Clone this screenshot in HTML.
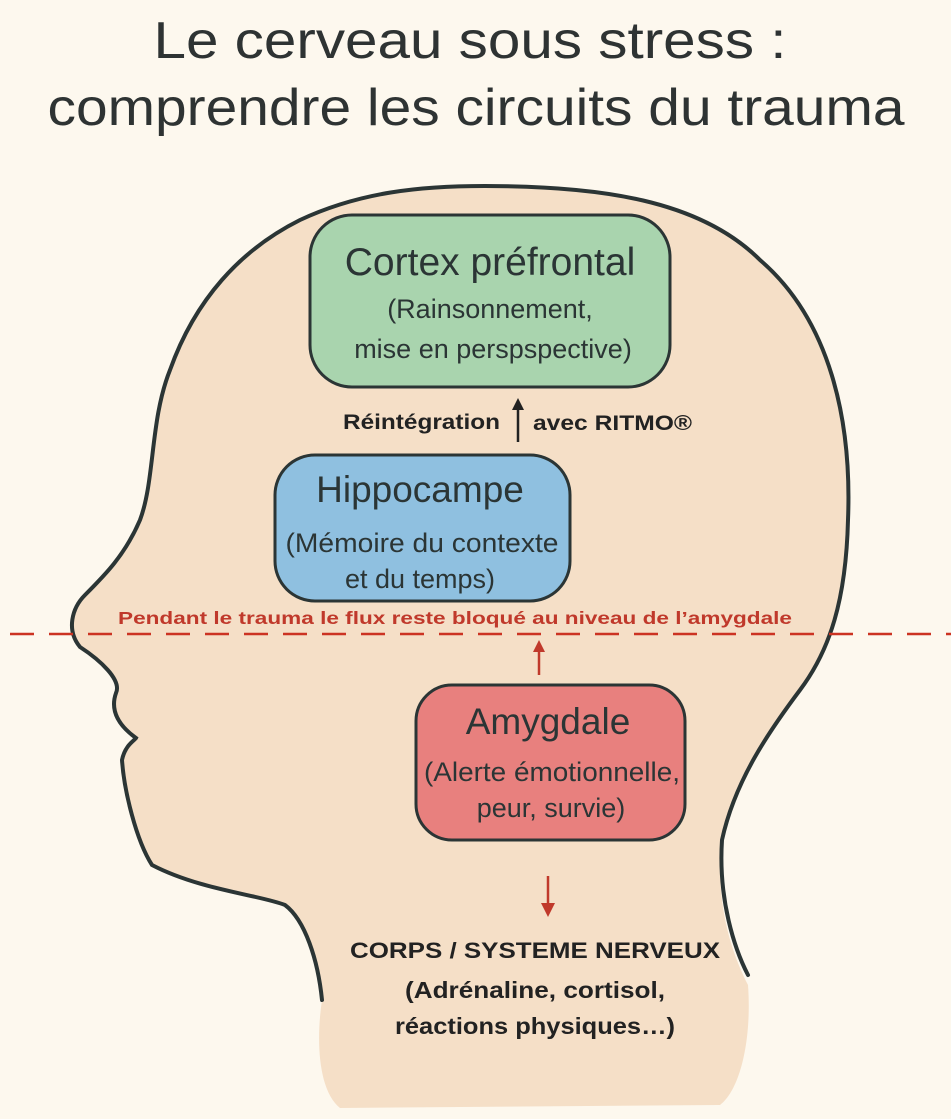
<!DOCTYPE html>
<html><head><meta charset="utf-8"><style>
html,body{margin:0;padding:0;background:#fdf8ee;}
svg{display:block;}
</style></head><body>
<svg width="951" height="1119" viewBox="0 0 951 1119" xmlns="http://www.w3.org/2000/svg" font-family="Liberation Sans, DejaVu Sans, sans-serif">
<rect width="951" height="1119" fill="#fdf8ee"/>
<text x="470" y="58" font-size="52" fill="#2e3333" text-anchor="middle" textLength="633" lengthAdjust="spacingAndGlyphs">Le cerveau sous stress :</text>
<text x="476" y="125" font-size="52" fill="#2e3333" text-anchor="middle" textLength="857" lengthAdjust="spacingAndGlyphs">comprendre les circuits du trauma</text>

<path d="M485,186 C600,186 700,200 760,260 C830,320 852,420 848,520 C846,600 830,650 800,690 C770,730 735,780 722,840 C715,900 730,950 748,985 C752,1040 740,1090 720,1105 L340,1108 C318,1090 316,1040 322,1000 C318,960 305,920 285,905 C260,895 200,890 152,865 C136,840 124,790 122,760 C125,745 135,740 136,738 C118,725 110,710 116,693 C122,680 100,660 80,647 C66,630 72,608 85,595 C105,575 125,555 140,520 C155,480 150,420 170,370 C195,300 240,250 300,220 C360,192 420,186 485,186 Z" fill="#f5dfc7"/>
<path d="M748,975 C735,950 718,900 722,840 C735,780 770,730 800,690 C830,650 846,600 848,520 C852,420 830,320 760,260 C700,200 600,186 485,186 C420,186 360,192 300,220 C240,250 195,300 170,370 C150,420 155,480 140,520 C125,555 105,575 85,595 C72,608 66,630 80,647 C100,660 122,680 116,693 C110,710 118,725 136,738 C135,740 125,745 122,760 C124,790 136,840 152,865 C200,890 260,895 285,905 C305,920 318,960 322,1000" fill="none" stroke="#2b3535" stroke-width="4" stroke-linecap="round"/>

<rect x="310" y="215" width="360" height="172" rx="42" fill="#a9d4ae" stroke="#2b3535" stroke-width="3"/>
<text x="490" y="275" font-size="39" fill="#2b3535" text-anchor="middle">Cortex préfrontal</text>
<text x="490" y="318" font-size="27" fill="#2b3535" text-anchor="middle">(Rainsonnement,</text>
<text x="493" y="358" font-size="27" fill="#2b3535" text-anchor="middle">mise en perspspective)</text>

<line x1="518" y1="442" x2="518" y2="408" stroke="#222" stroke-width="2.5"/>
<path d="M512,410 L518,398 L524,410 Z" fill="#222"/>
<text x="500" y="429" font-size="21" font-weight="bold" fill="#222" text-anchor="end" textLength="157" lengthAdjust="spacingAndGlyphs">Réintégration</text>
<text x="533" y="430" font-size="21" font-weight="bold" fill="#222" textLength="159" lengthAdjust="spacingAndGlyphs">avec RITMO®</text>

<rect x="275" y="455" width="295" height="146" rx="40" fill="#8fc0e0" stroke="#2b3535" stroke-width="3"/>
<text x="420" y="502" font-size="37" fill="#2b3535" text-anchor="middle">Hippocampe</text>
<text x="422" y="552" font-size="27" fill="#2b3535" text-anchor="middle" textLength="273" lengthAdjust="spacingAndGlyphs">(Mémoire du contexte</text>
<text x="420" y="588" font-size="27" fill="#2b3535" text-anchor="middle">et du temps)</text>

<line x1="10" y1="634" x2="951" y2="634" stroke="#cc3322" stroke-width="2.5" stroke-dasharray="24,15"/>
<text x="455" y="624" font-size="17.5" font-weight="bold" fill="#c0392b" text-anchor="middle" textLength="674" lengthAdjust="spacingAndGlyphs">Pendant le trauma le flux reste bloqué au niveau de l’amygdale</text>
<line x1="539" y1="675" x2="539" y2="650" stroke="#c0392b" stroke-width="2.5"/>
<path d="M533,652 L539,640 L545,652 Z" fill="#c0392b"/>

<rect x="416" y="685" width="269" height="155" rx="36" fill="#e8807e" stroke="#2b3535" stroke-width="3"/>
<text x="548" y="734" font-size="37" fill="#2b3535" text-anchor="middle">Amygdale</text>
<text x="552" y="781" font-size="27" fill="#2b3535" text-anchor="middle" textLength="256" lengthAdjust="spacingAndGlyphs">(Alerte émotionnelle,</text>
<text x="551" y="817" font-size="27" fill="#2b3535" text-anchor="middle">peur, survie)</text>

<line x1="548" y1="876" x2="548" y2="905" stroke="#c0392b" stroke-width="2.5"/>
<path d="M541,903 L548,917 L555,903 Z" fill="#c0392b"/>

<text x="535" y="958" font-size="22" font-weight="bold" fill="#222" text-anchor="middle" textLength="370" lengthAdjust="spacingAndGlyphs">CORPS / SYSTEME NERVEUX</text>
<text x="535" y="998" font-size="23" font-weight="bold" fill="#222" text-anchor="middle" textLength="260" lengthAdjust="spacingAndGlyphs">(Adrénaline, cortisol,</text>
<text x="535" y="1034" font-size="23" font-weight="bold" fill="#222" text-anchor="middle" textLength="280" lengthAdjust="spacingAndGlyphs">réactions physiques…)</text>
</svg>
</body></html>
